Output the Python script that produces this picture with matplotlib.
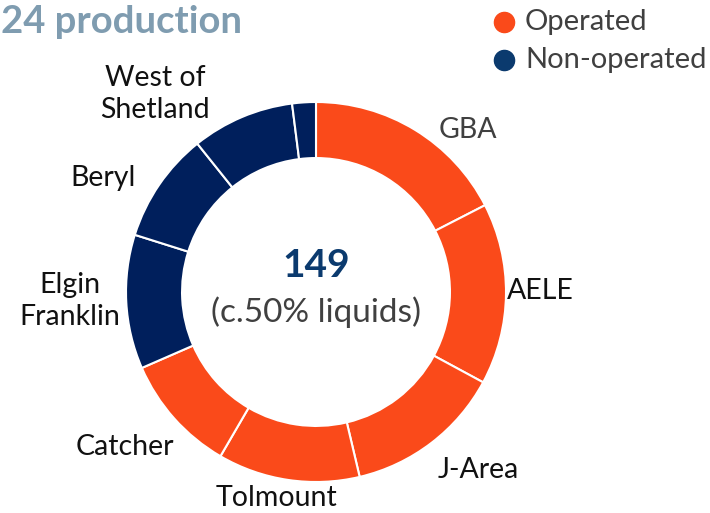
import matplotlib
matplotlib.use("Agg")
import matplotlib.pyplot as plt
from matplotlib.lines import Line2D

# ---- data ----
fields = ["GBA", "AELE", "J-Area", "Tolmount", "Catcher",
          "Elgin\nFranklin", "Beryl", "West of\nShetland", ""]
production = [26, 23, 20, 18, 15, 17, 14, 13, 3]
operated = [True, True, True, True, True, False, False, False, False]
total_label = "149"
sub_label = "(c.50% liquids)"
title = "24 production"
legend_labels = ["Operated", "Non-operated"]

# ---- style ----
ORANGE = "#FA4A1A"
NAVY = "#001F5C"
NAVY_TXT = "#0B3A6E"
FONT = ["Lato", "DejaVu Sans"]
plt.rcParams["font.family"] = FONT

W, H = 710, 513
fig = plt.figure(figsize=(W / 100, H / 100), dpi=100)
cx, cy, R = 316, 292, 190
ax = fig.add_axes([(cx - R) / W, (H - cy - R) / H, 2 * R / W, 2 * R / H])

colors = [ORANGE if o else NAVY for o in operated]
ax.pie(production, colors=colors, startangle=90, counterclock=False,
       radius=1.0, wedgeprops=dict(width=0.295, edgecolor="white", linewidth=1.5))
ax.set_xlim(-1, 1)
ax.set_ylim(-1, 1)
ax.set_axis_off()

# label positions in pixels (layout)
label_px = [(468, 130), (540, 291), (478, 470), (276, 498), (125, 447),
            (70, 301), (103, 178), (155, 94), None]
for name, pos in zip(fields, label_px):
    if pos is None or not name:
        continue
    col = "#404040" if name == "GBA" else "#111111"
    fig.text(pos[0] / W, 1 - pos[1] / H, name, ha="center", va="center",
             fontsize=20.5, color=col, linespacing=1.3)

ax.text(0, 0.142, total_label, ha="center", va="center", fontsize=28,
        fontweight="bold", color=NAVY_TXT)
ax.text(0, -0.105, sub_label, ha="center", va="center", fontsize=24,
        color="#404040")

fig.text(0.001, 1 - 22 / H, title, ha="left", va="center", fontsize=27.5,
         fontweight="bold", color="#7F9CB0")

# legend (manual)
leg_y = [22, 60]
for lab, c, y in zip(legend_labels, [ORANGE, "#0B3A6E"], leg_y):
    fig.add_artist(Line2D([504 / W], [1 - y / H], marker="o", linestyle="none",
                          markersize=14.5, markerfacecolor=c, markeredgecolor=c,
                          transform=fig.transFigure))
    fig.text(525 / W, 1 - y / H, lab, ha="left", va="center", fontsize=21,
             color="#404040")

fig.savefig("out.png", dpi=100)
